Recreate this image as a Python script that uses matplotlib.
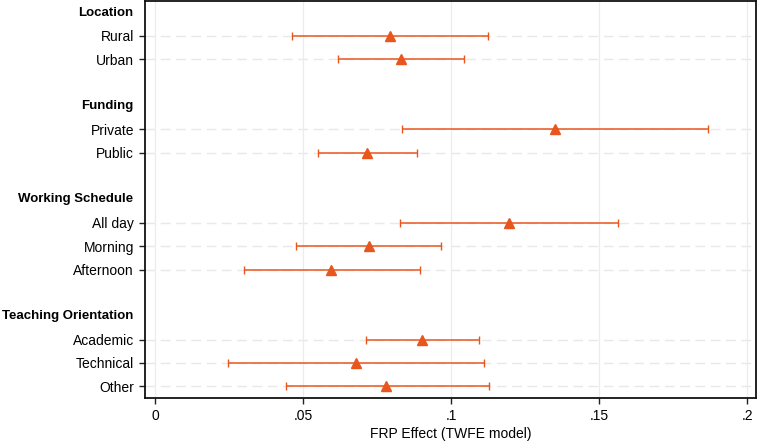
import numpy as np
import matplotlib.pyplot as plt
from matplotlib import transforms

# --- Data ---
groups = ["Location", "Funding", "Working Schedule", "Teaching Orientation"]
group_items = [
    ["Rural", "Urban"],
    ["Private", "Public"],
    ["All day", "Morning", "Afternoon"],
    ["Academic", "Technical", "Other"],
]
estimates = [0.0794, 0.0831, 0.1351, 0.0717, 0.1194, 0.0721, 0.0595, 0.0902, 0.0678, 0.0781]
ci_low = [0.0463, 0.0619, 0.0835, 0.0550, 0.0827, 0.0477, 0.0299, 0.0711, 0.0246, 0.0440]
ci_high = [0.1126, 0.1044, 0.1867, 0.0885, 0.1563, 0.0966, 0.0893, 0.1095, 0.1110, 0.1127]
x_ticks = [0, 0.05, 0.1, 0.15, 0.2]
x_tick_labels = ["0", ".05", ".1", ".15", ".2"]

color = "#E8561E"

plt.rcParams['font.family'] = ['Liberation Sans', 'DejaVu Sans']

# --- Row positions: header row, items, blank spacer ---
header_pos = []
item_pos = []
item_labels = []
pos = 0
for g, items in zip(groups, group_items):
    header_pos.append(pos)
    pos += 1
    for it in items:
        item_pos.append(pos)
        item_labels.append(it)
        pos += 1
    pos += 1  # blank spacer

fig = plt.figure(figsize=(7.58, 4.42), dpi=100)
ax = fig.add_axes([0.1913, 0.0995, 0.8060, 0.8985])

est = np.array(estimates)
lo = np.array(ci_low)
hi = np.array(ci_high)

# horizontal dashed reference lines at each item row
for y in item_pos:
    ax.axhline(y, color="#e8e8e8", lw=1.0, ls=(0, (7, 4)), zorder=0)
# vertical grid
for x in x_ticks:
    ax.axvline(x, color="#ececec", lw=0.9, zorder=0)

ax.errorbar(est, item_pos, xerr=[est - lo, hi - est], fmt="none",
            ecolor=color, elinewidth=1.1, capsize=3, capthick=1.0, zorder=3)
ax.plot(est, item_pos, ls="none", marker="^", ms=6.5, color=color, zorder=4)

ax.set_xlim(-0.0035, 0.203)
ax.set_ylim(16.5, -0.5)
ax.set_xticks(x_ticks)
ax.set_xticklabels(x_tick_labels, fontsize=10)
ax.set_yticks(item_pos)
ax.set_yticklabels(item_labels, fontsize=10)
ax.tick_params(axis="both", length=4, width=1.0, color="#222222", pad=4)

trans = transforms.blended_transform_factory(ax.transAxes, ax.transData)
for g, y in zip(groups, header_pos):
    ax.text(-12 / 611, y, g, transform=trans, ha="right", va="center",
            fontsize=9.5, fontweight="bold")

for s in ax.spines.values():
    s.set_linewidth(1.3)
    s.set_color("#111111")

ax.set_xlabel("FRP Effect (TWFE model)", fontsize=10, labelpad=3)

fig.savefig("out.png", dpi=100)
